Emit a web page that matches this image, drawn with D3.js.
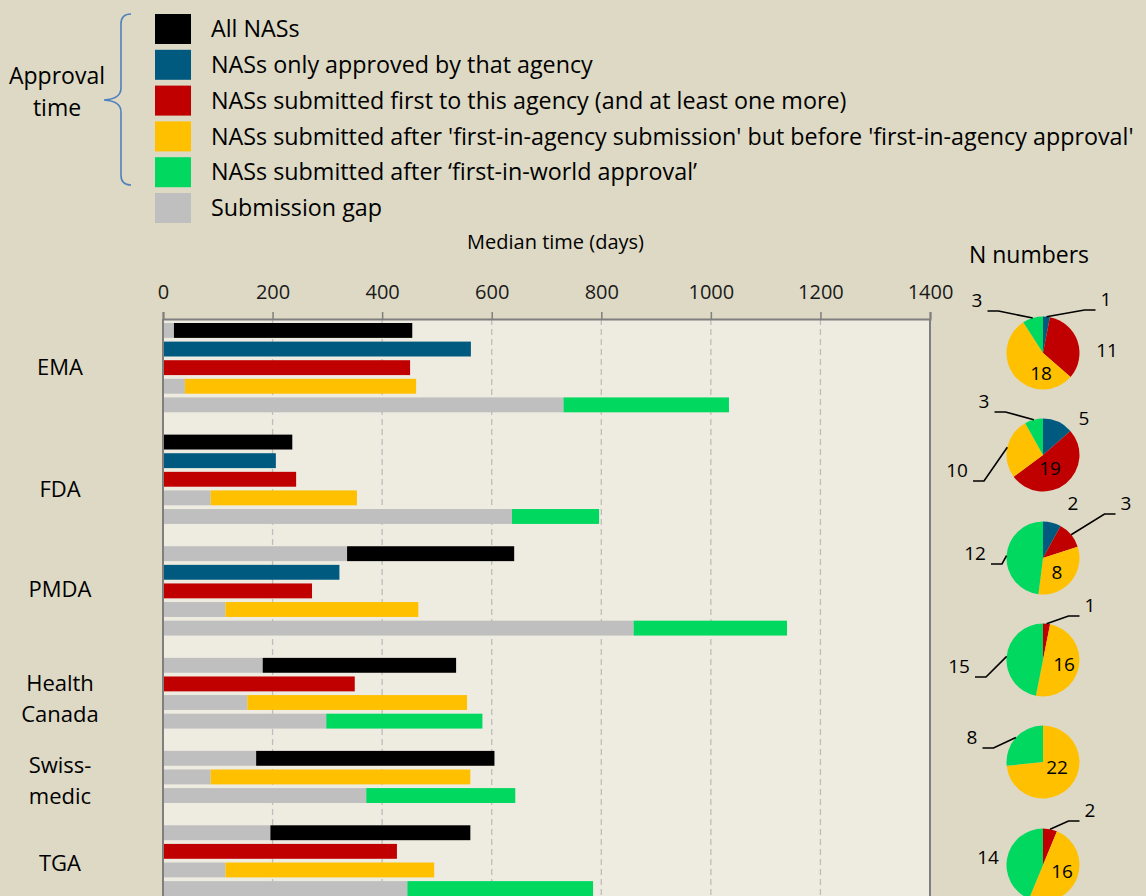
<!DOCTYPE html>
<html>
<head>
<meta charset="utf-8">
<script src="https://cdn.jsdelivr.net/npm/d3@7"></script>
<style>
  html, body { margin: 0; padding: 0; background: #ddd9c4; }
  svg { display: block; }
  text { font-family: 'Open Sans', sans-serif; fill: #000; }
  .axis text { font-size: 20px; fill: #1a1a1a; }
</style>
</head>
<body>
<script>
// agencies and their row labels
var agencies = ['EMA', 'FDA', 'PMDA', 'Health Canada', 'Swissmedic', 'TGA'];
var agencyLines = [['EMA'], ['FDA'], ['PMDA'], ['Health', 'Canada'], ['Swiss-', 'medic'], ['TGA']];

var seriesNames = [
	'All NASs',
	'NASs only approved by that agency',
	'NASs submitted first to this agency (and at least one more)',
	"NASs submitted after 'first-in-agency submission' but before 'first-in-agency approval'",
	'NASs submitted after \u2018first-in-world approval\u2019',
	'Submission gap'
];
var seriesColors = ['#000000', '#005a80', '#c00000', '#ffc000', '#00d860', '#bfbfbf'];

// median submission gap (days) per agency, one array per series (null = no bar)
var gapAll        = [20, 0, 336, 182, 170, 196];
var gapOnly       = [0, 0, 0, null, null, null];
var gapFirst      = [0, 0, 0, 0, null, 0];
var gapAfterSub   = [40, 87, 114, 154, 87, 114];
var gapAfterWorld = [731, 637, 859, 298, 371, 446];

// median approval time (days) per agency
var apprAll        = [435, 236, 305, 353, 435, 365];
var apprOnly       = [562, 206, 322, null, null, null];
var apprFirst      = [451, 243, 272, 350, null, 427];
var apprAfterSub   = [422, 267, 352, 401, 474, 381];
var apprAfterWorld = [302, 159, 280, 285, 272, 339];

// N numbers for the pies (only, first, after submission, after world approval)
var nOnly       = [1, 5, 2, 0, 0, 0];
var nFirst      = [11, 19, 3, 1, 0, 2];
var nAfterSub   = [18, 10, 8, 16, 22, 16];
var nAfterWorld = [3, 3, 12, 15, 8, 14];

var xTicks = [0, 200, 400, 600, 800, 1000, 1200, 1400];

var gaps = [gapAll, gapOnly, gapFirst, gapAfterSub, gapAfterWorld];
var apprs = [apprAll, apprOnly, apprFirst, apprAfterSub, apprAfterWorld];
var ns = [nOnly, nFirst, nAfterSub, nAfterWorld];

// label placement for pie numbers, relative to pie centre: [dx, dy, leader]
var pieLabelPos = [
	[[63, -54, 1], [64, -3, 0], [-2, 20, 0], [-66, -53, 1]],
	[[41, -37, 0], [7, 13, 0], [-86, 15, 1], [-59, -54, 1]],
	[[30, -55, 0], [83, -55, 1], [14, 14, 0], [-68, -5, 1]],
	[null, [47, -55, 1], [21, 4, 0], [-84, 6, 1]],
	[null, null, [14, 5, 0], [-71, -25, 1]],
	[null, [47, -55, 1], [19, 6, 0], [-55, -8, 0]]
];
// small vertical nudges for the agency names
var agencyDy = [0, 10, -2, 6, 4, 3];

var W = 1146, H = 896;
var svg = d3.select('body').append('svg').attr('width', W).attr('height', H);

/* LEGEND */
var legend = svg.append('g');
var legY = d3.scalePoint().domain(d3.range(seriesNames.length)).range([29, 208]);
legend.selectAll('rect')
	.data(seriesNames)
	.enter().append('rect')
		.attr('x', 155)
		.attr('y', function (d, i) { return legY(i) - 15; })
		.attr('width', 36)
		.attr('height', 30)
		.attr('fill', function (d, i) { return seriesColors[i]; });
legend.selectAll('text')
	.data(seriesNames)
	.enter().append('text')
		.attr('x', 211)
		.attr('y', function (d, i) { return legY(i); })
		.attr('dy', '0.35em')
		.style('font-size', '23.3px')
		.text(function (d) { return d; });

// brace around the approval-time series
legend.append('path')
	.attr('d', 'M131,14 Q121,14 121,24 L121,88 Q121,99 104,100 Q121,101 121,112 L121,175 Q121,185 131,185')
	.attr('fill', 'none')
	.attr('stroke', '#4f81bd')
	.attr('stroke-width', 1.6);
legend.append('text').attr('x', 57).attr('y', 76).attr('dy', '0.35em')
	.attr('text-anchor', 'middle').style('font-size', '23px').text('Approval');
legend.append('text').attr('x', 57).attr('y', 108).attr('dy', '0.35em')
	.attr('text-anchor', 'middle').style('font-size', '23px').text('time');

/* BAR CHART */
var plotLeft = 163, plotRight = 930, plotTop = 319;
var x = d3.scaleLinear().domain([0, 1400]).range([plotLeft, plotRight]);

// one row per bar, with an empty row between agencies
var rows = [], groups = [];
agencies.forEach(function (a, ai) {
	var first = rows.length;
	for (var s = 0; s < 5; s++) {
		if (apprs[s][ai] !== null) {
			rows.push({ id: a + s, agency: ai, series: s, gap: gaps[s][ai], appr: apprs[s][ai] });
		}
	}
	groups.push({ agency: ai, first: rows[first].id, last: rows[rows.length - 1].id });
	if (ai < agencies.length - 1) rows.push({ id: 'blank' + ai, blank: true });
});
var rowIds = rows.map(function (r) { return r.id; });
var y = d3.scaleBand().domain(rowIds).range([323, 896]).paddingInner(0.2).paddingOuter(0);

var chart = svg.append('g');
chart.append('rect')
	.attr('x', plotLeft).attr('y', plotTop)
	.attr('width', plotRight - plotLeft).attr('height', H - plotTop)
	.attr('fill', '#eeebe0');

// grid
chart.selectAll('.grid')
	.data(xTicks.slice(1, -1))
	.enter().append('line')
		.attr('x1', x).attr('x2', x)
		.attr('y1', plotTop).attr('y2', H)
		.attr('stroke', '#bdbdbd')
		.attr('stroke-width', 1.3)
		.attr('stroke-dasharray', '6,4');

var bars = rows.filter(function (r) { return !r.blank; });
chart.selectAll('.gap')
	.data(bars.filter(function (r) { return r.gap > 0; }))
	.enter().append('rect')
		.attr('x', x(0))
		.attr('y', function (d) { return y(d.id); })
		.attr('width', function (d) { return x(d.gap) - x(0); })
		.attr('height', y.bandwidth())
		.attr('fill', seriesColors[5]);
chart.selectAll('.appr')
	.data(bars)
	.enter().append('rect')
		.attr('x', function (d) { return x(d.gap); })
		.attr('y', function (d) { return y(d.id); })
		.attr('width', function (d) { return x(d.gap + d.appr) - x(d.gap); })
		.attr('height', y.bandwidth())
		.attr('fill', function (d) { return seriesColors[d.series]; });

// axes and frame
chart.append('g')
	.attr('class', 'axis')
	.attr('transform', 'translate(0,' + plotTop + ')')
	.call(d3.axisTop(x).tickValues(xTicks).tickFormat(d3.format('d'))
		.tickSize(7).tickPadding(13).tickSizeOuter(7))
	.call(function (g) {
		g.selectAll('line').attr('stroke', '#7f7f7f').attr('stroke-width', 1.5);
		g.select('.domain').attr('stroke', '#7f7f7f').attr('stroke-width', 2);
	});
chart.append('line').attr('x1', plotLeft).attr('x2', plotLeft).attr('y1', plotTop).attr('y2', H)
	.attr('stroke', '#7f7f7f').attr('stroke-width', 2);
chart.append('line').attr('x1', plotRight).attr('x2', plotRight).attr('y1', plotTop).attr('y2', H)
	.attr('stroke', '#7f7f7f').attr('stroke-width', 2);

svg.append('text')
	.attr('x', (plotLeft + plotRight) / 2 + 9).attr('y', 242).attr('dy', '0.35em')
	.attr('text-anchor', 'middle').style('font-size', '20px')
	.text('Median time (days)');

// agency labels
groups.forEach(function (g) {
	var cy = (y(g.first) + y(g.last) + y.bandwidth()) / 2 + agencyDy[g.agency];
	var lines = agencyLines[g.agency];
	lines.forEach(function (t, li) {
		svg.append('text')
			.attr('x', 60)
			.attr('y', cy + (li - (lines.length - 1) / 2) * 31)
			.attr('dy', '0.35em')
			.attr('text-anchor', 'middle')
			.style('font-size', '22px')
			.text(t);
	});
});

/* PIES */
svg.append('text').attr('x', 1029).attr('y', 255).attr('dy', '0.35em')
	.attr('text-anchor', 'middle').style('font-size', '23px').text('N numbers');

var pieCx = 1043, pieR = 36.5;
var pieCy = [353, 455, 558, 660, 762, 865];
var pie = d3.pie().sort(null).value(function (d) { return d.n; });
var arc = d3.arc().innerRadius(0).outerRadius(pieR);

agencies.forEach(function (a, ai) {
	var data = ns.map(function (arr, k) { return { n: arr[ai], k: k }; });
	var g = svg.append('g').attr('transform', 'translate(' + pieCx + ',' + pieCy[ai] + ')');
	var arcs = pie(data);
	g.selectAll('path')
		.data(arcs.filter(function (d) { return d.data.n > 0; }))
		.enter().append('path')
			.attr('d', arc)
			.attr('fill', function (d) { return seriesColors[d.data.k + 1]; });

	arcs.forEach(function (d) {
		var pos = pieLabelPos[ai][d.data.k];
		if (!d.data.n || !pos) return;
		var label = String(d.data.n);
		g.append('text')
			.attr('x', pos[0]).attr('y', pos[1]).attr('dy', '0.35em')
			.attr('text-anchor', 'middle')
			.style('font-size', '19px')
			.text(label);
		if (pos[2]) {
			var mid = (d.startAngle + d.endAngle) / 2;
			var ex = Math.sin(mid) * pieR, ey = -Math.cos(mid) * pieR;
			var half = label.length * 5.5 + 5;
			var sx = pos[0] > 0 ? pos[0] - half : pos[0] + half;
			var kx = pos[0] > 0 ? sx - 11 : sx + 11;
			g.append('path')
				.attr('d', d3.line()([[sx, pos[1] + 11], [kx, pos[1] + 11], [ex, ey]]))
				.attr('fill', 'none')
				.attr('stroke', '#000')
				.attr('stroke-width', 1.6);
		}
	});
});
</script>
</body>
</html>
